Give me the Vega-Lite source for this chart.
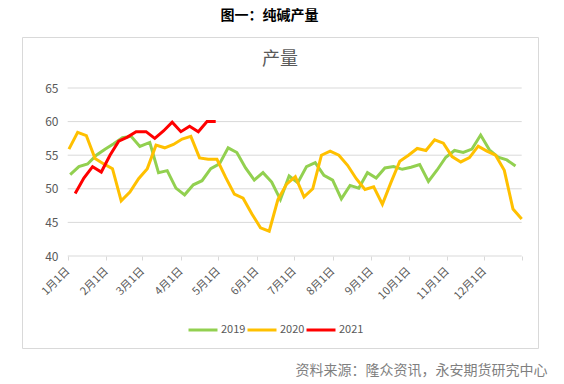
{
  "$schema": "https://vega.github.io/schema/vega-lite/v6.json",
  "width": 516,
  "height": 311,
  "autosize": {"type": "none"},
  "padding": {"left": 22, "top": 37, "right": 26, "bottom": 36},
  "background": "white",
  "config": {
    "font": "Noto Sans CJK SC",
    "view": {"stroke": "#d9d9d9", "strokeWidth": 1}
  },
  "title": {
    "text": "产量",
    "anchor": "middle",
    "frame": "group",
    "orient": "top",
    "offset": -30,
    "dy": 31,
    "fontSize": 18,
    "fontWeight": "normal",
    "color": "#595959",
    "font": "Noto Sans CJK SC"
  },
  "datasets": {
    "grid": [{"value": 40}, {"value": 45}, {"value": 50}, {"value": 55}, {"value": 60}, {"value": 65}],
    "series": [
      {"date": "2019-01-03", "year": "2019", "value": 52.1},
      {"date": "2019-01-10", "year": "2019", "value": 53.3},
      {"date": "2019-01-17", "year": "2019", "value": 53.7},
      {"date": "2019-01-24", "year": "2019", "value": 55.0},
      {"date": "2019-01-31", "year": "2019", "value": 55.9},
      {"date": "2019-02-07", "year": "2019", "value": 56.7},
      {"date": "2019-02-14", "year": "2019", "value": 57.6},
      {"date": "2019-02-21", "year": "2019", "value": 57.8},
      {"date": "2019-02-28", "year": "2019", "value": 56.3},
      {"date": "2019-03-07", "year": "2019", "value": 56.9},
      {"date": "2019-03-14", "year": "2019", "value": 52.4},
      {"date": "2019-03-21", "year": "2019", "value": 52.7},
      {"date": "2019-03-28", "year": "2019", "value": 50.1},
      {"date": "2019-04-04", "year": "2019", "value": 49.1},
      {"date": "2019-04-11", "year": "2019", "value": 50.6},
      {"date": "2019-04-18", "year": "2019", "value": 51.2},
      {"date": "2019-04-25", "year": "2019", "value": 53.0},
      {"date": "2019-05-02", "year": "2019", "value": 53.7},
      {"date": "2019-05-09", "year": "2019", "value": 56.1},
      {"date": "2019-05-16", "year": "2019", "value": 55.4},
      {"date": "2019-05-23", "year": "2019", "value": 53.1},
      {"date": "2019-05-30", "year": "2019", "value": 51.3},
      {"date": "2019-06-06", "year": "2019", "value": 52.4},
      {"date": "2019-06-13", "year": "2019", "value": 51.0},
      {"date": "2019-06-20", "year": "2019", "value": 48.4},
      {"date": "2019-06-27", "year": "2019", "value": 51.9},
      {"date": "2019-07-04", "year": "2019", "value": 50.9},
      {"date": "2019-07-11", "year": "2019", "value": 53.3},
      {"date": "2019-07-18", "year": "2019", "value": 53.9},
      {"date": "2019-07-25", "year": "2019", "value": 52.0},
      {"date": "2019-08-01", "year": "2019", "value": 51.3},
      {"date": "2019-08-08", "year": "2019", "value": 48.5},
      {"date": "2019-08-15", "year": "2019", "value": 50.5},
      {"date": "2019-08-22", "year": "2019", "value": 50.1},
      {"date": "2019-08-29", "year": "2019", "value": 52.4},
      {"date": "2019-09-05", "year": "2019", "value": 51.6},
      {"date": "2019-09-12", "year": "2019", "value": 53.1},
      {"date": "2019-09-19", "year": "2019", "value": 53.3},
      {"date": "2019-09-26", "year": "2019", "value": 52.9},
      {"date": "2019-10-03", "year": "2019", "value": 53.2},
      {"date": "2019-10-10", "year": "2019", "value": 53.6},
      {"date": "2019-10-17", "year": "2019", "value": 51.1},
      {"date": "2019-10-24", "year": "2019", "value": 52.8},
      {"date": "2019-10-31", "year": "2019", "value": 54.7},
      {"date": "2019-11-07", "year": "2019", "value": 55.7},
      {"date": "2019-11-14", "year": "2019", "value": 55.4},
      {"date": "2019-11-21", "year": "2019", "value": 55.9},
      {"date": "2019-11-28", "year": "2019", "value": 58.0},
      {"date": "2019-12-05", "year": "2019", "value": 55.8},
      {"date": "2019-12-12", "year": "2019", "value": 54.7},
      {"date": "2019-12-19", "year": "2019", "value": 54.3},
      {"date": "2019-12-26", "year": "2019", "value": 53.4},
      {"date": "2020-01-02", "year": "2020", "value": 55.9},
      {"date": "2020-01-09", "year": "2020", "value": 58.4},
      {"date": "2020-01-16", "year": "2020", "value": 57.9},
      {"date": "2020-01-23", "year": "2020", "value": 54.5},
      {"date": "2020-01-30", "year": "2020", "value": 53.7},
      {"date": "2020-02-06", "year": "2020", "value": 53.0},
      {"date": "2020-02-13", "year": "2020", "value": 48.2},
      {"date": "2020-02-20", "year": "2020", "value": 49.5},
      {"date": "2020-02-27", "year": "2020", "value": 51.5},
      {"date": "2020-03-05", "year": "2020", "value": 53.0},
      {"date": "2020-03-12", "year": "2020", "value": 56.5},
      {"date": "2020-03-19", "year": "2020", "value": 56.1},
      {"date": "2020-03-26", "year": "2020", "value": 56.6},
      {"date": "2020-04-02", "year": "2020", "value": 57.4},
      {"date": "2020-04-09", "year": "2020", "value": 57.8},
      {"date": "2020-04-16", "year": "2020", "value": 54.6},
      {"date": "2020-04-23", "year": "2020", "value": 54.4},
      {"date": "2020-04-30", "year": "2020", "value": 54.4},
      {"date": "2020-05-07", "year": "2020", "value": 51.7},
      {"date": "2020-05-14", "year": "2020", "value": 49.2},
      {"date": "2020-05-21", "year": "2020", "value": 48.6},
      {"date": "2020-05-28", "year": "2020", "value": 46.3},
      {"date": "2020-06-04", "year": "2020", "value": 44.2},
      {"date": "2020-06-11", "year": "2020", "value": 43.7},
      {"date": "2020-06-18", "year": "2020", "value": 48.4},
      {"date": "2020-06-25", "year": "2020", "value": 50.7},
      {"date": "2020-07-02", "year": "2020", "value": 51.8},
      {"date": "2020-07-09", "year": "2020", "value": 48.8},
      {"date": "2020-07-16", "year": "2020", "value": 50.0},
      {"date": "2020-07-23", "year": "2020", "value": 55.0},
      {"date": "2020-07-30", "year": "2020", "value": 55.6},
      {"date": "2020-08-06", "year": "2020", "value": 55.0},
      {"date": "2020-08-13", "year": "2020", "value": 53.5},
      {"date": "2020-08-20", "year": "2020", "value": 51.5},
      {"date": "2020-08-27", "year": "2020", "value": 49.9},
      {"date": "2020-09-03", "year": "2020", "value": 50.3},
      {"date": "2020-09-10", "year": "2020", "value": 47.7},
      {"date": "2020-09-17", "year": "2020", "value": 51.0},
      {"date": "2020-09-24", "year": "2020", "value": 54.1},
      {"date": "2020-10-01", "year": "2020", "value": 55.0},
      {"date": "2020-10-08", "year": "2020", "value": 56.0},
      {"date": "2020-10-15", "year": "2020", "value": 55.7},
      {"date": "2020-10-22", "year": "2020", "value": 57.3},
      {"date": "2020-10-29", "year": "2020", "value": 56.8},
      {"date": "2020-11-05", "year": "2020", "value": 54.8},
      {"date": "2020-11-12", "year": "2020", "value": 54.0},
      {"date": "2020-11-19", "year": "2020", "value": 54.65},
      {"date": "2020-11-26", "year": "2020", "value": 56.35},
      {"date": "2020-12-03", "year": "2020", "value": 55.6},
      {"date": "2020-12-10", "year": "2020", "value": 55.0},
      {"date": "2020-12-17", "year": "2020", "value": 52.75},
      {"date": "2020-12-24", "year": "2020", "value": 47.0},
      {"date": "2020-12-31", "year": "2020", "value": 45.5},
      {"date": "2021-01-07", "year": "2021", "value": 49.3},
      {"date": "2021-01-14", "year": "2021", "value": 51.6},
      {"date": "2021-01-21", "year": "2021", "value": 53.3},
      {"date": "2021-01-28", "year": "2021", "value": 52.5},
      {"date": "2021-02-04", "year": "2021", "value": 55.0},
      {"date": "2021-02-11", "year": "2021", "value": 57.1},
      {"date": "2021-02-18", "year": "2021", "value": 57.7},
      {"date": "2021-02-25", "year": "2021", "value": 58.5},
      {"date": "2021-03-04", "year": "2021", "value": 58.5},
      {"date": "2021-03-11", "year": "2021", "value": 57.5},
      {"date": "2021-03-18", "year": "2021", "value": 58.6},
      {"date": "2021-03-25", "year": "2021", "value": 59.9},
      {"date": "2021-04-01", "year": "2021", "value": 58.5},
      {"date": "2021-04-08", "year": "2021", "value": 59.3},
      {"date": "2021-04-15", "year": "2021", "value": 58.5},
      {"date": "2021-04-22", "year": "2021", "value": 60.0},
      {"date": "2021-04-29", "year": "2021", "value": 60.0}
    ]
  },
  "layer": [
    {
      "data": {"name": "grid"},
      "mark": {"type": "rule", "color": "#d9d9d9", "strokeWidth": 1},
      "encoding": {
        "y": {"field": "value", "type": "quantitative"},
        "x": {"datum": {"year": 2012, "month": 1, "date": 1, "utc": true}, "type": "temporal"},
        "x2": {"datum": {"year": 2012, "month": 12, "date": 31, "utc": true}}
      }
    },
    {
      "data": {"name": "series"},
      "mark": {"type": "line", "strokeWidth": 3},
      "encoding": {
        "x": {
          "field": "date",
          "timeUnit": "utcmonthdate",
          "type": "temporal",
          "scale": {
            "type": "utc",
            "domain": [
              {"year": 2012, "month": 1, "date": 1, "utc": true},
              {"year": 2012, "month": 12, "date": 31, "utc": true}
            ],
            "range": [45.7, 499.7]
          },
          "axis": {
            "orient": "bottom",
            "offset": -92,
            "domain": false,
            "grid": false,
            "ticks": true,
            "tickSize": 4,
            "tickColor": "#d9d9d9",
            "values": [
              {"year": 2012, "month": 1, "date": 1, "utc": true},
              {"year": 2012, "month": 2, "date": 1, "utc": true},
              {"year": 2012, "month": 3, "date": 1, "utc": true},
              {"year": 2012, "month": 4, "date": 1, "utc": true},
              {"year": 2012, "month": 5, "date": 1, "utc": true},
              {"year": 2012, "month": 6, "date": 1, "utc": true},
              {"year": 2012, "month": 7, "date": 1, "utc": true},
              {"year": 2012, "month": 8, "date": 1, "utc": true},
              {"year": 2012, "month": 9, "date": 1, "utc": true},
              {"year": 2012, "month": 10, "date": 1, "utc": true},
              {"year": 2012, "month": 11, "date": 1, "utc": true},
              {"year": 2012, "month": 12, "date": 1, "utc": true},
              {"year": 2012, "month": 12, "date": 31, "utc": true}
            ],
            "labelExpr": "utcdate(datum.value) == 1 ? (utcmonth(datum.value) + 1) + '月1日' : ''",
            "labelAngle": -45,
            "labelAlign": "right",
            "labelBaseline": "middle",
            "labelPadding": 9,
            "labelFontSize": 11,
            "labelColor": "#595959",
            "labelFont": "Noto Sans CJK SC",
            "labelOverlap": false,
            "labelFlush": false,
            "title": "资料来源：隆众资讯，永安期货研究中心",
            "titleX": 525,
            "titleY": 114,
            "titleAlign": "right",
            "titleAnchor": "end",
            "titleBaseline": "middle",
            "titleFontSize": 14,
            "titleFontWeight": "normal",
            "titleColor": "#7f7f7f",
            "titleFont": "Noto Sans CJK SC"
          }
        },
        "y": {
          "field": "value",
          "type": "quantitative",
          "scale": {"domain": [40, 65], "range": [219, 51], "nice": false, "zero": false},
          "axis": {
            "orient": "left",
            "offset": -38,
            "domain": false,
            "grid": false,
            "ticks": false,
            "values": [40, 45, 50, 55, 60, 65],
            "labelPadding": 2,
            "labelFontSize": 12,
            "labelColor": "#595959",
            "labelFont": "Noto Sans CJK SC",
            "title": "图一：纯碱产量",
            "titleAngle": 0,
            "titleX": 209,
            "titleY": -22,
            "titleAlign": "center",
            "titleBaseline": "middle",
            "titleFontSize": 14,
            "titleFontWeight": "bold",
            "titleColor": "#000000",
            "titleFont": "Noto Sans CJK SC"
          }
        },
        "color": {
          "field": "year",
          "type": "nominal",
          "scale": {"domain": ["2019", "2020", "2021"], "range": ["#92D050", "#FFC000", "#FF0000"]},
          "legend": {
            "orient": "none",
            "direction": "horizontal",
            "legendX": 165,
            "legendY": 277,
            "padding": 0,
            "title": null,
            "symbolType": "stroke",
            "symbolSize": 841,
            "symbolStrokeWidth": 3,
            "labelFontSize": 11,
            "labelColor": "#595959",
            "labelFont": "Noto Sans CJK SC",
            "labelOffset": 2,
            "columnPadding": -5
          }
        }
      }
    }
  ]
}
